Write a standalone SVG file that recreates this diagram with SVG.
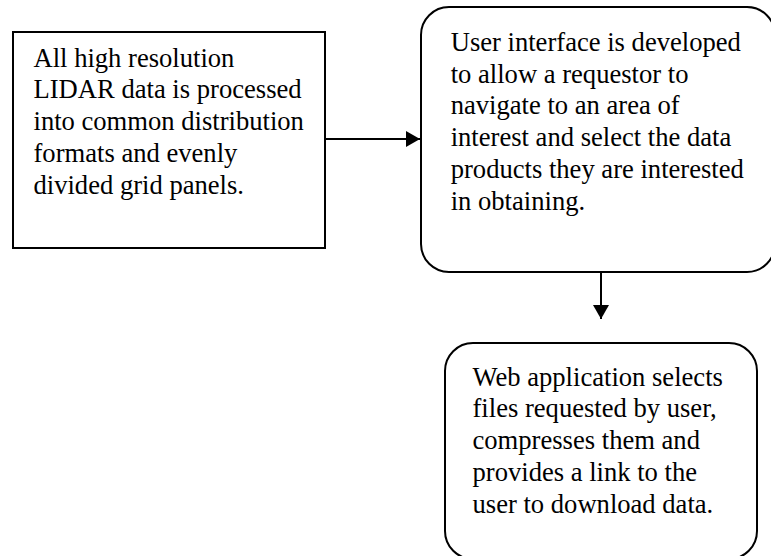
<svg xmlns="http://www.w3.org/2000/svg" width="771" height="556" viewBox="0 0 771 556">
<style>
.box{fill:#fff;stroke:#000;stroke-width:2}
.t{font-family:"Liberation Serif","Times New Roman",serif;font-size:26.6px;fill:#000}
.c{stroke:#000;stroke-width:2;fill:none}
</style>
<defs>
<marker id="ah" markerWidth="14" markerHeight="16" refX="14" refY="8" orient="auto" markerUnits="userSpaceOnUse">
<path d="M0,0 L14,8 L0,16 Z" fill="#000"/>
</marker>
</defs>
<rect width="771" height="556" fill="#fff"/>
<g id="connectors">
<line class="c" x1="325" y1="139" x2="420" y2="139" marker-end="url(#ah)"/>
<line class="c" x1="601" y1="272" x2="601" y2="319" marker-end="url(#ah)"/>
</g>
<g id="node-lidar">
<rect class="box" x="13" y="32" width="312" height="216"/>
<text class="t" x="33.5" y="66.5">All high resolution</text>
<text class="t" x="33.5" y="98.3">LIDAR data is processed</text>
<text class="t" x="33.5" y="130.1">into common distribution</text>
<text class="t" x="33.5" y="161.9">formats and evenly</text>
<text class="t" x="33.5" y="193.7">divided grid panels.</text>
</g>
<g id="node-ui">
<rect class="box" x="421" y="7" width="354" height="265" rx="28" ry="28"/>
<text class="t" x="450.7" y="50.7">User interface is developed</text>
<text class="t" x="450.7" y="82.5">to allow a requestor to</text>
<text class="t" x="450.7" y="114.3">navigate to an area of</text>
<text class="t" x="450.7" y="146.1">interest and select the data</text>
<text class="t" x="450.7" y="177.9">products they are interested</text>
<text class="t" x="450.7" y="209.7">in obtaining.</text>
</g>
<g id="node-web">
<rect class="box" x="445" y="343" width="312" height="216" rx="28" ry="28"/>
<text class="t" x="472.5" y="385.7">Web application selects</text>
<text class="t" x="472.5" y="417.4">files requested by user,</text>
<text class="t" x="472.5" y="449.1">compresses them and</text>
<text class="t" x="472.5" y="480.8">provides a link to the</text>
<text class="t" x="472.5" y="512.5">user to download data.</text>
</g>
</svg>
